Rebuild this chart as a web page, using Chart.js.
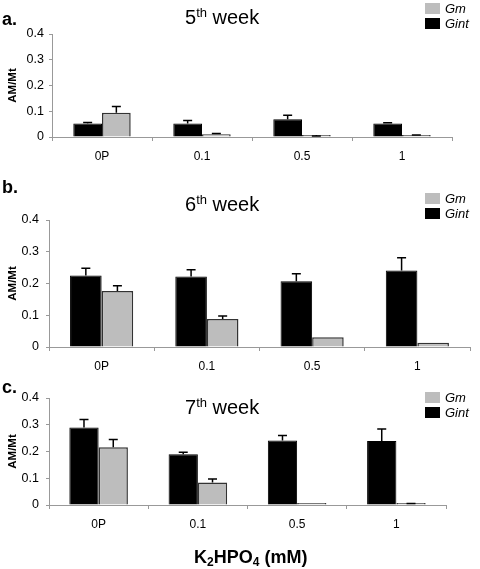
<!DOCTYPE html>
<html>
<head>
<meta charset="utf-8">
<script src="https://cdn.jsdelivr.net/npm/chart.js@4.4.1/dist/chart.umd.min.js"></script>
<style>
body { margin: 0; background: #fff; font-family: "Liberation Sans", Arial, sans-serif; }
#wrap { position: relative; width: 480px; height: 569px; overflow: hidden; }
canvas { position: absolute; left: 0; }
.lbl { position: absolute; left: 2px; font-weight: bold; font-size: 18px; line-height: 1; }
.ttl { position: absolute; left: 185px; font-size: 20px; line-height: 1; white-space: nowrap; }
.ttl sup { font-size: 13px; line-height: 0; vertical-align: 7px; }
.leg { position: absolute; left: 425px; width: 55px; font-size: 13px; font-style: italic; line-height: 1; }
.leg .row { position: relative; height: 15px; }
.leg .box { position: absolute; left: 0; top: 1px; width: 15px; height: 11px; }
.leg .txt { position: absolute; left: 20px; top: 0; }
#xt { position: absolute; left: 194px; top: 548px; font-weight: bold; font-size: 18px; line-height: 1; white-space: nowrap; }
#xt sub { font-size: 12px; line-height: 0; vertical-align: -3px; }
</style>
</head>
<body>
<div id="wrap">
  <canvas id="weekA" width="480" height="175" style="top:0px"></canvas>
  <canvas id="weekB" width="480" height="200" style="top:175px"></canvas>
  <canvas id="weekC" width="480" height="194" style="top:375px"></canvas>

  <div class="lbl" style="top:10px">a.</div>
  <div class="lbl" style="top:178px">b.</div>
  <div class="lbl" style="top:378px">c.</div>

  <div class="ttl" style="top:7px">5<sup>th</sup> week</div>
  <div class="ttl" style="top:194px">6<sup>th</sup> week</div>
  <div class="ttl" style="top:397px">7<sup>th</sup> week</div>

  <div class="leg" style="top:2px">
    <div class="row"><span class="box" style="background:#bdbdbd"></span><span class="txt">Gm</span></div>
    <div class="row"><span class="box" style="background:#000"></span><span class="txt">Gint</span></div>
  </div>
  <div class="leg" style="top:192px">
    <div class="row"><span class="box" style="background:#bdbdbd"></span><span class="txt">Gm</span></div>
    <div class="row"><span class="box" style="background:#000"></span><span class="txt">Gint</span></div>
  </div>
  <div class="leg" style="top:391px">
    <div class="row"><span class="box" style="background:#bdbdbd"></span><span class="txt">Gm</span></div>
    <div class="row"><span class="box" style="background:#000"></span><span class="txt">Gint</span></div>
  </div>

  <div id="xt">K<sub>2</sub>HPO<sub>4</sub> (mM)</div>
</div>

<script>
// categories and axis ticks
const categories = ["0P", "0.1", "0.5", "1"];
const yTicks = [0, 0.1, 0.2, 0.3, 0.4];

// 5th week
const week5Gint = [0.052, 0.052, 0.069, 0.052];
const week5GintErr = [0.004, 0.012, 0.015, 0.003];
const week5Gm = [0.094, 0.011, 0.003, 0.005];
const week5GmErr = [0.024, 0.003, 0.001, 0.003];

// 6th week
const week6Gint = [0.225, 0.222, 0.207, 0.241];
const week6GintErr = [0.023, 0.021, 0.024, 0.040];
const week6Gm = [0.176, 0.088, 0.031, 0.013];
const week6GmErr = [0.017, 0.010, 0, 0];

// 7th week
const week7Gint = [0.290, 0.190, 0.241, 0.239];
const week7GintErr = [0.030, 0.007, 0.019, 0.045];
const week7Gm = [0.216, 0.084, 0.002, 0.003];
const week7GmErr = [0.029, 0.013, 0, 0.003];

Chart.defaults.font.family = '"Liberation Sans", Arial, sans-serif';
Chart.defaults.color = "#000";

// upper error bars with a cap
const errorBars = {
    id: "errorBars",
    afterDatasetsDraw(chart) {
        const ctx = chart.ctx;
        const yScale = chart.scales.y;
        ctx.save();
        ctx.strokeStyle = "#000";
        ctx.lineWidth = 1.5;
        chart.data.datasets.forEach((ds, i) => {
            const meta = chart.getDatasetMeta(i);
            meta.data.forEach((bar, j) => {
                const e = ds.errors[j];
                if (!e) return;
                const top = yScale.getPixelForValue(ds.data[j] + e);
                ctx.beginPath();
                ctx.moveTo(bar.x, bar.y);
                ctx.lineTo(bar.x, top);
                ctx.moveTo(bar.x - 4.5, top);
                ctx.lineTo(bar.x + 4.5, top);
                ctx.stroke();
            });
        });
        ctx.restore();
    }
};

function makeChart(id, gint, gintErr, gm, gmErr, box) {
    const ctx = document.getElementById(id).getContext("2d");
    return new Chart(ctx, {
        type: "bar",
        data: {
            labels: categories,
            datasets: [{
                    label: "Gint",
                    data: gint,
                    errors: gintErr,
                    backgroundColor: "#000",
                    borderColor: "#000",
                    borderWidth: 1,
                    categoryPercentage: box.cat,
                    barPercentage: 1
                },
                {
                    label: "Gm",
                    data: gm,
                    errors: gmErr,
                    backgroundColor: "#bdbdbd",
                    borderColor: "#333",
                    borderWidth: 1.5,
                    minBarLength: 2,
                    categoryPercentage: box.cat,
                    barPercentage: 1
                }
            ]
        },
        options: {
            responsive: false,
            animation: false,
            devicePixelRatio: 1,
            layout: { padding: { top: box.top, right: box.right, left: 0, bottom: 0 } },
            plugins: { legend: { display: false }, tooltip: { enabled: false } },
            scales: {
                x: {
                    offset: true,
                    grid: { offset: true, drawOnChartArea: false, color: "#999", tickLength: 4 },
                    border: { color: "#999" },
                    ticks: { font: { size: 12 }, padding: 8, maxRotation: 0 },
                    afterFit: s => { s.height = box.xh; }
                },
                y: {
                    min: 0,
                    max: 0.4,
                    afterBuildTicks: s => { s.ticks = yTicks.map(v => ({ value: v })); },
                    grid: { drawOnChartArea: false, color: "#999", tickLength: 3 },
                    border: { color: "#999" },
                    ticks: { font: { size: 12.5 }, padding: box.tp },
                    title: {
                        display: true,
                        text: "AM/Mt",
                        font: { size: 11.5, weight: "bold" },
                        padding: { top: 6, bottom: 0 }
                    },
                    afterFit: s => { s.width = box.yw; }
                }
            }
        },
        plugins: [errorBars]
    });
}

makeChart("weekA", week5Gint, week5GintErr, week5Gm, week5GmErr,
    { top: 34, right: 28, yw: 52, xh: 38, cat: 0.574, tp: 5 });
makeChart("weekB", week6Gint, week6GintErr, week6Gm, week6GmErr,
    { top: 45, right: 10, yw: 49, xh: 28, cat: 0.6, tp: 7 });
makeChart("weekC", week7Gint, week7GintErr, week7Gm, week7GmErr,
    { top: 23, right: 34, yw: 49, xh: 64, cat: 0.59, tp: 7 });
</script>
</body>
</html>
